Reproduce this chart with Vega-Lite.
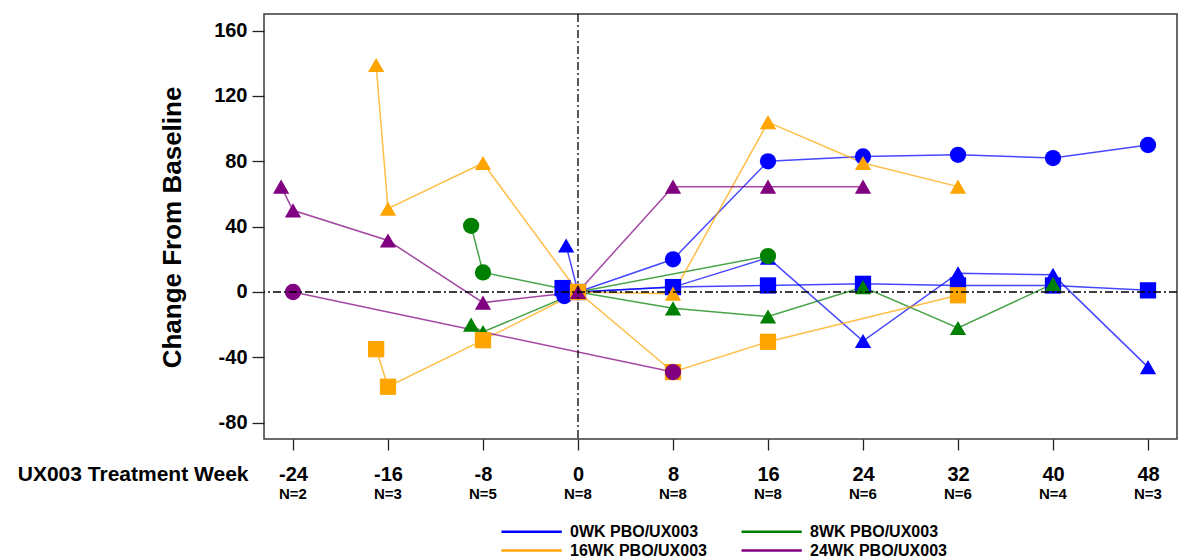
{
  "$schema": "https://vega.github.io/schema/vega-lite/v6.json",
  "width": 913,
  "height": 425,
  "autosize": {"type": "none"},
  "padding": {"left": 264, "top": 14, "right": 2, "bottom": 119},
  "config": {
    "font": "Liberation Sans",
    "view": {"stroke": "#3a3a3a", "strokeWidth": 1.5},
    "axis": {
      "grid": false,
      "domain": false,
      "tickColor": "#222222",
      "tickWidth": 1.3,
      "labelColor": "#000000",
      "labelFontWeight": "bold",
      "titleColor": "#000000",
      "titleFontWeight": "bold"
    }
  },
  "datasets": {
    "visits": [
      {"cohort": "0WK PBO/UX003", "subject": "0WK-circle", "shape": "circle", "week": -1.15, "change": -2.5},
      {"cohort": "0WK PBO/UX003", "subject": "0WK-circle", "shape": "circle", "week": 0, "change": 0},
      {"cohort": "0WK PBO/UX003", "subject": "0WK-circle", "shape": "circle", "week": 8, "change": 20},
      {"cohort": "0WK PBO/UX003", "subject": "0WK-circle", "shape": "circle", "week": 16, "change": 80},
      {"cohort": "0WK PBO/UX003", "subject": "0WK-circle", "shape": "circle", "week": 24, "change": 83},
      {"cohort": "0WK PBO/UX003", "subject": "0WK-circle", "shape": "circle", "week": 32, "change": 84},
      {"cohort": "0WK PBO/UX003", "subject": "0WK-circle", "shape": "circle", "week": 40, "change": 82},
      {"cohort": "0WK PBO/UX003", "subject": "0WK-circle", "shape": "circle", "week": 48, "change": 90},
      {"cohort": "0WK PBO/UX003", "subject": "0WK-square", "shape": "square", "week": -1.3, "change": 2.4},
      {"cohort": "0WK PBO/UX003", "subject": "0WK-square", "shape": "square", "week": 0, "change": 0},
      {"cohort": "0WK PBO/UX003", "subject": "0WK-square", "shape": "square", "week": 8, "change": 3},
      {"cohort": "0WK PBO/UX003", "subject": "0WK-square", "shape": "square", "week": 16, "change": 4},
      {"cohort": "0WK PBO/UX003", "subject": "0WK-square", "shape": "square", "week": 24, "change": 5},
      {"cohort": "0WK PBO/UX003", "subject": "0WK-square", "shape": "square", "week": 32, "change": 4},
      {"cohort": "0WK PBO/UX003", "subject": "0WK-square", "shape": "square", "week": 40, "change": 4},
      {"cohort": "0WK PBO/UX003", "subject": "0WK-square", "shape": "square", "week": 48, "change": 1},
      {"cohort": "0WK PBO/UX003", "subject": "0WK-triangle", "shape": "triangle", "week": -1, "change": 28.5},
      {"cohort": "0WK PBO/UX003", "subject": "0WK-triangle", "shape": "triangle", "week": 0, "change": 0},
      {"cohort": "0WK PBO/UX003", "subject": "0WK-triangle", "shape": "triangle", "week": 8, "change": 3},
      {"cohort": "0WK PBO/UX003", "subject": "0WK-triangle", "shape": "triangle", "week": 16, "change": 21},
      {"cohort": "0WK PBO/UX003", "subject": "0WK-triangle", "shape": "triangle", "week": 24, "change": -30},
      {"cohort": "0WK PBO/UX003", "subject": "0WK-triangle", "shape": "triangle", "week": 32, "change": 11.5},
      {"cohort": "0WK PBO/UX003", "subject": "0WK-triangle", "shape": "triangle", "week": 40, "change": 10.5},
      {"cohort": "0WK PBO/UX003", "subject": "0WK-triangle", "shape": "triangle", "week": 48, "change": -46},
      {"cohort": "8WK PBO/UX003", "subject": "8WK-circle", "shape": "circle", "week": -9, "change": 40.5},
      {"cohort": "8WK PBO/UX003", "subject": "8WK-circle", "shape": "circle", "week": -8, "change": 12},
      {"cohort": "8WK PBO/UX003", "subject": "8WK-circle", "shape": "circle", "week": 0, "change": 0},
      {"cohort": "8WK PBO/UX003", "subject": "8WK-circle", "shape": "circle", "week": 16, "change": 22},
      {"cohort": "8WK PBO/UX003", "subject": "8WK-triangle", "shape": "triangle", "week": -9, "change": -20},
      {"cohort": "8WK PBO/UX003", "subject": "8WK-triangle", "shape": "triangle", "week": -8, "change": -24.5},
      {"cohort": "8WK PBO/UX003", "subject": "8WK-triangle", "shape": "triangle", "week": 0, "change": 0},
      {"cohort": "8WK PBO/UX003", "subject": "8WK-triangle", "shape": "triangle", "week": 8, "change": -10},
      {"cohort": "8WK PBO/UX003", "subject": "8WK-triangle", "shape": "triangle", "week": 16, "change": -15},
      {"cohort": "8WK PBO/UX003", "subject": "8WK-triangle", "shape": "triangle", "week": 24, "change": 3},
      {"cohort": "8WK PBO/UX003", "subject": "8WK-triangle", "shape": "triangle", "week": 32, "change": -22},
      {"cohort": "8WK PBO/UX003", "subject": "8WK-triangle", "shape": "triangle", "week": 40, "change": 5},
      {"cohort": "16WK PBO/UX003", "subject": "16WK-triangle", "shape": "triangle", "week": -17, "change": 139},
      {"cohort": "16WK PBO/UX003", "subject": "16WK-triangle", "shape": "triangle", "week": -16, "change": 51},
      {"cohort": "16WK PBO/UX003", "subject": "16WK-triangle", "shape": "triangle", "week": -8, "change": 79},
      {"cohort": "16WK PBO/UX003", "subject": "16WK-triangle", "shape": "triangle", "week": 0, "change": 0},
      {"cohort": "16WK PBO/UX003", "subject": "16WK-triangle", "shape": "triangle", "week": 8, "change": -1},
      {"cohort": "16WK PBO/UX003", "subject": "16WK-triangle", "shape": "triangle", "week": 16, "change": 104},
      {"cohort": "16WK PBO/UX003", "subject": "16WK-triangle", "shape": "triangle", "week": 24, "change": 79},
      {"cohort": "16WK PBO/UX003", "subject": "16WK-triangle", "shape": "triangle", "week": 32, "change": 64.5},
      {"cohort": "16WK PBO/UX003", "subject": "16WK-square", "shape": "square", "week": -17, "change": -35},
      {"cohort": "16WK PBO/UX003", "subject": "16WK-square", "shape": "square", "week": -16, "change": -58},
      {"cohort": "16WK PBO/UX003", "subject": "16WK-square", "shape": "square", "week": -8, "change": -29.5},
      {"cohort": "16WK PBO/UX003", "subject": "16WK-square", "shape": "square", "week": 0, "change": 0},
      {"cohort": "16WK PBO/UX003", "subject": "16WK-square", "shape": "square", "week": 8, "change": -49},
      {"cohort": "16WK PBO/UX003", "subject": "16WK-square", "shape": "square", "week": 16, "change": -30.5},
      {"cohort": "16WK PBO/UX003", "subject": "16WK-square", "shape": "square", "week": 32, "change": -2},
      {"cohort": "24WK PBO/UX003", "subject": "24WK-triangle", "shape": "triangle", "week": -25, "change": 64.5},
      {"cohort": "24WK PBO/UX003", "subject": "24WK-triangle", "shape": "triangle", "week": -24, "change": 50},
      {"cohort": "24WK PBO/UX003", "subject": "24WK-triangle", "shape": "triangle", "week": -16, "change": 31.5},
      {"cohort": "24WK PBO/UX003", "subject": "24WK-triangle", "shape": "triangle", "week": -8, "change": -6.5},
      {"cohort": "24WK PBO/UX003", "subject": "24WK-triangle", "shape": "triangle", "week": 0, "change": 0},
      {"cohort": "24WK PBO/UX003", "subject": "24WK-triangle", "shape": "triangle", "week": 8, "change": 64.5},
      {"cohort": "24WK PBO/UX003", "subject": "24WK-triangle", "shape": "triangle", "week": 16, "change": 64.5},
      {"cohort": "24WK PBO/UX003", "subject": "24WK-triangle", "shape": "triangle", "week": 24, "change": 64.5},
      {"cohort": "24WK PBO/UX003", "subject": "24WK-circle", "shape": "circle", "week": -24, "change": 0},
      {"cohort": "24WK PBO/UX003", "subject": "24WK-circle", "shape": "circle", "week": 8, "change": -49}
    ],
    "counts": [
      {"week": -24, "n": "N=2"},
      {"week": -16, "n": "N=3"},
      {"week": -8, "n": "N=5"},
      {"week": 0, "n": "N=8"},
      {"week": 8, "n": "N=8"},
      {"week": 16, "n": "N=8"},
      {"week": 24, "n": "N=6"},
      {"week": 32, "n": "N=6"},
      {"week": 40, "n": "N=4"},
      {"week": 48, "n": "N=3"}
    ]
  },
  "layer": [
    {
      "data": {"name": "visits"},
      "encoding": {
        "x": {
          "field": "week",
          "type": "quantitative",
          "scale": {"domain": [-26.442, 50.442], "nice": false, "zero": false},
          "axis": {
            "values": [-24, -16, -8, 0, 8, 16, 24, 32, 40, 48],
            "labelExpr": "'' + datum.value",
            "labelFontSize": 20,
            "tickSize": 11,
            "labelPadding": 14,
            "title": "UX003 Treatment Week",
            "titleFontSize": 21,
            "titleAngle": 0,
            "titleAlign": "right",
            "titleBaseline": "alphabetic",
            "titleX": -16,
            "titleY": 41
          }
        },
        "y": {
          "field": "change",
          "type": "quantitative",
          "scale": {"domain": [-90, 170.2], "nice": false, "zero": false},
          "axis": {
            "values": [-80, -40, 0, 40, 80, 120, 160],
            "labelExpr": "'' + datum.value",
            "labelFontSize": 20,
            "tickSize": 12,
            "labelPadding": 5,
            "title": "Change From Baseline",
            "titleFontSize": 26,
            "titleAngle": -90,
            "titleAlign": "center",
            "titleBaseline": "middle",
            "titleX": -92,
            "titleY": 213
          }
        },
        "color": {
          "field": "cohort",
          "type": "nominal",
          "scale": {
            "domain": ["0WK PBO/UX003", "8WK PBO/UX003", "16WK PBO/UX003", "24WK PBO/UX003"],
            "range": ["#0000ff", "#008000", "#ffa500", "#800080"]
          },
          "legend": {
            "title": null,
            "orient": "none",
            "legendX": 236,
            "legendY": 507,
            "columns": 2,
            "direction": "horizontal",
            "symbolType": "M-1,0H5.7",
            "symbolSize": 324,
            "symbolStrokeWidth": 2.5,
            "symbolFillColor": "transparent",
            "labelFontSize": 16,
            "labelFontWeight": "bold",
            "labelColor": "#000000",
            "labelOffset": 49,
            "columnPadding": 29,
            "rowPadding": 0,
            "padding": 0
          }
        },
        "detail": {"field": "subject"}
      },
      "layer": [
        {
          "mark": {"type": "line", "strokeWidth": 1.5, "strokeOpacity": 0.72}
        },
        {
          "mark": {"type": "point", "filled": true, "opacity": 1, "size": 265},
          "encoding": {
            "shape": {
              "field": "shape",
              "type": "nominal",
              "scale": {"domain": ["circle", "square", "triangle"], "range": ["circle", "square", "triangle-up"]},
              "legend": null
            }
          }
        }
      ]
    },
    {
      "data": {"name": "counts"},
      "mark": {"type": "text", "fontSize": 15, "fontWeight": "bold", "baseline": "middle", "color": "#000000"},
      "encoding": {
        "x": {"field": "week", "type": "quantitative", "scale": {"domain": [-26.442, 50.442], "nice": false, "zero": false}},
        "y": {"datum": -123.7, "type": "quantitative", "scale": {"domain": [-90, 170.2], "nice": false, "zero": false}},
        "text": {"field": "n"}
      }
    },
    {
      "data": {"values": [{}]},
      "mark": {"type": "rule", "color": "#000000", "strokeWidth": 1.3, "strokeDash": [8, 3, 2, 3]},
      "encoding": {"y": {"datum": 0, "type": "quantitative", "scale": {"domain": [-90, 170.2], "nice": false, "zero": false}}}
    },
    {
      "data": {"values": [{}]},
      "mark": {"type": "rule", "color": "#000000", "strokeWidth": 1.3, "strokeDash": [8, 3, 2, 3]},
      "encoding": {"x": {"datum": 0, "type": "quantitative", "scale": {"domain": [-26.442, 50.442], "nice": false, "zero": false}}}
    }
  ]
}
